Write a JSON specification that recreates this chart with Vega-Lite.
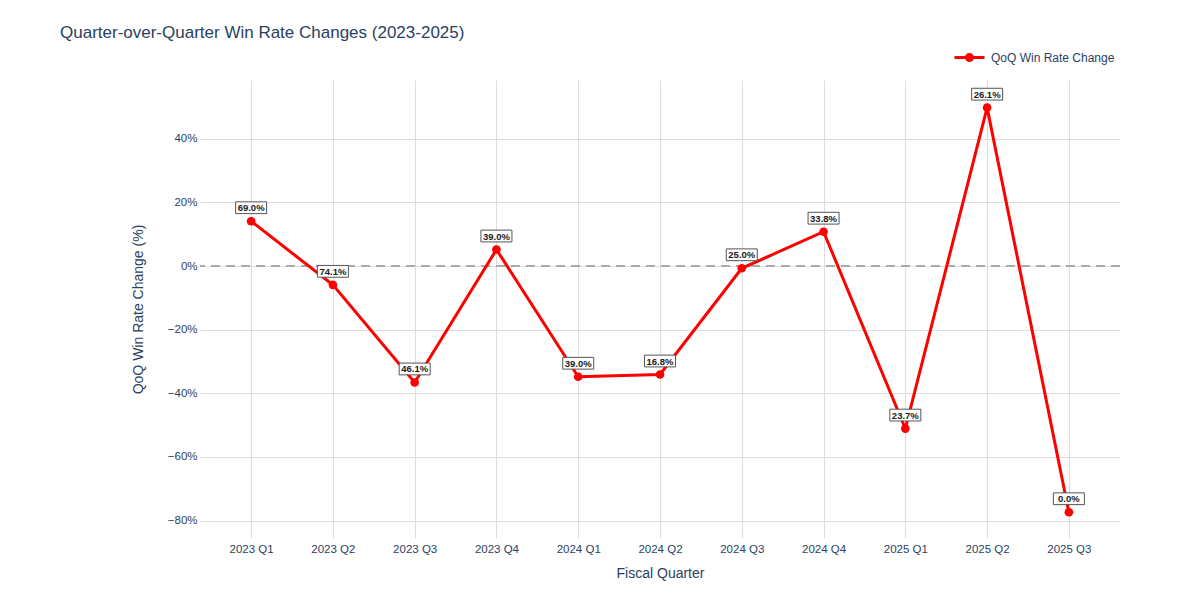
{
  "$schema": "https://vega.github.io/schema/vega-lite/v6.json",
  "width": 920,
  "height": 458,
  "autosize": {"type": "none"},
  "padding": {"left": 200, "top": 80, "right": 80, "bottom": 62},
  "background": "white",
  "title": {
    "text": "Quarter-over-Quarter Win Rate Changes (2023-2025)",
    "anchor": "start",
    "frame": "group",
    "dx": -140,
    "offset": -1,
    "font": "Liberation Sans, Arial, sans-serif",
    "fontSize": 17,
    "fontWeight": "normal",
    "color": "#2a3f5f"
  },
  "config": {
    "view": {"stroke": null},
    "font": "Liberation Sans, Arial, sans-serif",
    "axis": {
      "labelFont": "Liberation Sans, Arial, sans-serif",
      "titleFont": "Liberation Sans, Arial, sans-serif",
      "labelColor": "#2a3f5f",
      "titleColor": "#2a3f5f",
      "titleFontWeight": "normal",
      "gridColor": "#dddddd",
      "gridWidth": 1,
      "domain": false,
      "ticks": false
    }
  },
  "data": {
    "values": [
      {"quarter": "2023 Q1", "change": 14.1, "label": "69.0%", "series": "QoQ Win Rate Change"},
      {"quarter": "2023 Q2", "change": -5.9, "label": "74.1%", "series": "QoQ Win Rate Change"},
      {"quarter": "2023 Q3", "change": -36.6, "label": "46.1%", "series": "QoQ Win Rate Change"},
      {"quarter": "2023 Q4", "change": 5.2, "label": "39.0%", "series": "QoQ Win Rate Change"},
      {"quarter": "2024 Q1", "change": -34.8, "label": "39.0%", "series": "QoQ Win Rate Change"},
      {"quarter": "2024 Q2", "change": -34.1, "label": "16.8%", "series": "QoQ Win Rate Change"},
      {"quarter": "2024 Q3", "change": -0.7, "label": "25.0%", "series": "QoQ Win Rate Change"},
      {"quarter": "2024 Q4", "change": 10.8, "label": "33.8%", "series": "QoQ Win Rate Change"},
      {"quarter": "2025 Q1", "change": -51.1, "label": "23.7%", "series": "QoQ Win Rate Change"},
      {"quarter": "2025 Q2", "change": 49.8, "label": "26.1%", "series": "QoQ Win Rate Change"},
      {"quarter": "2025 Q3", "change": -77.4, "label": "0.0%", "series": "QoQ Win Rate Change"}
    ]
  },
  "encoding": {
    "x": {
      "field": "quarter",
      "type": "ordinal",
      "sort": null,
      "scale": {"type": "point", "padding": 0.625},
      "axis": {
        "title": "Fiscal Quarter",
        "labelAngle": 0,
        "labelFontSize": 11.5,
        "labelPadding": 5,
        "titleFontSize": 14,
        "titlePadding": 12,
        "grid": true
      }
    },
    "y": {
      "field": "change",
      "type": "quantitative",
      "scale": {"domain": [-85.5, 58.5], "nice": false, "zero": false},
      "axis": {
        "title": "QoQ Win Rate Change (%)",
        "values": [-80, -60, -40, -20, 0, 20, 40],
        "labelExpr": "format(datum.value / 100, '.0%')",
        "labelFontSize": 11.5,
        "labelPadding": 3,
        "titleFontSize": 14,
        "titlePadding": 22,
        "grid": true
      }
    }
  },
  "layer": [
    {
      "mark": {"type": "rule", "strokeDash": [9, 6], "color": "#aaaaaa", "strokeWidth": 2},
      "encoding": {"y": {"datum": 0}, "x": null}
    },
    {
      "mark": {"type": "line", "strokeWidth": 3, "point": {"filled": true, "size": 75, "opacity": 1}},
      "encoding": {
        "color": {
          "field": "series",
          "type": "nominal",
          "scale": {"range": ["#ff0000"]},
          "legend": {
            "title": null,
            "orient": "none",
            "legendX": 753,
            "legendY": -39,
            "symbolType": "M-1,0L1,0M-0.2,0A0.2,0.2,0,1,1,0.2,0A0.2,0.2,0,1,1,-0.2,0Z",
            "symbolSize": 900,
            "symbolStrokeWidth": 3,
            "labelFontSize": 12,
            "labelColor": "#2a3f5f",
            "labelFont": "Liberation Sans, Arial, sans-serif",
            "labelOffset": 5,
            "encode": {
              "symbols": {
                "update": {
                  "fill": {"value": "#ff0000"},
                  "stroke": {"value": "#ff0000"},
                  "strokeWidth": {"value": 3},
                  "opacity": {"value": 1}
                }
              }
            }
          }
        }
      }
    },
    {
      "mark": {
        "type": "point",
        "shape": "M-1,-0.38L1,-0.38L1,0.38L-1,0.38Z",
        "size": 961,
        "filled": false,
        "fill": "white",
        "fillOpacity": 1,
        "stroke": "#555555",
        "strokeWidth": 1,
        "opacity": 1,
        "yOffset": -13.5
      },
      "encoding": {}
    },
    {
      "mark": {
        "type": "text",
        "fontSize": 9.5,
        "fontWeight": "bold",
        "color": "#1a1a1a",
        "baseline": "middle",
        "align": "center",
        "yOffset": -13
      },
      "encoding": {"text": {"field": "label"}}
    }
  ]
}
